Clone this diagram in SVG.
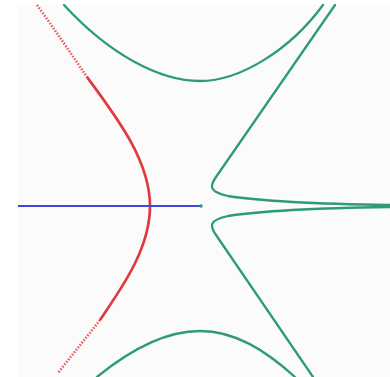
<svg xmlns="http://www.w3.org/2000/svg" width="390" height="377" viewBox="0 0 390 377">
<style>
.g{fill:none;stroke:#2e9a78;stroke-width:2.3;stroke-linecap:round;stroke-linejoin:round}
.r{fill:none;stroke:#de3b3e;stroke-width:2.7}
.rd{fill:none;stroke:#de3b3e;stroke-width:2.6;stroke-dasharray:1.5 1.6;opacity:0.85}
.b{fill:none;stroke:#3a48e0;stroke-width:2.2}
</style>
<rect x="0" y="0" width="390" height="377" fill="#ffffff"/>
<rect x="18" y="5" width="372" height="372" fill="#fafbfa"/>
<g id="connectors">
<path id="red-top" class="rd" d="M37,5 C55,30 72,55 87,77"/>
<path id="red-main" class="r" d="M87,77 C115,115 150,160 150,206 C150,250 120,290 100,320"/>
<path id="red-bottom" class="rd" d="M100,320 C86,338 72,355 58,373"/>
<path id="blue" class="b" d="M18,206 L200,206"/>
<path id="green-top" class="g" d="M64,5 C110,55 160,81 200,81 C240,81 290,50 323,5"/>
<path id="green-bottom" class="g" d="M97,377 C130,350 165,331 200,331 C235,331 265,350 295,377"/>
<path id="green-upper" class="g" d="M335,5 L216,177 C209,187 210,192 228,196 C260,201 320,204 390,205"/>
<path id="green-lower" class="g" d="M390,207 C320,208 260,211 228,216 C210,220 209,225 216,235 L313,377"/>
</g>
<g id="point">
<circle cx="201" cy="206" r="1.8" fill="#2e9a78"/>
</g>
</svg>
